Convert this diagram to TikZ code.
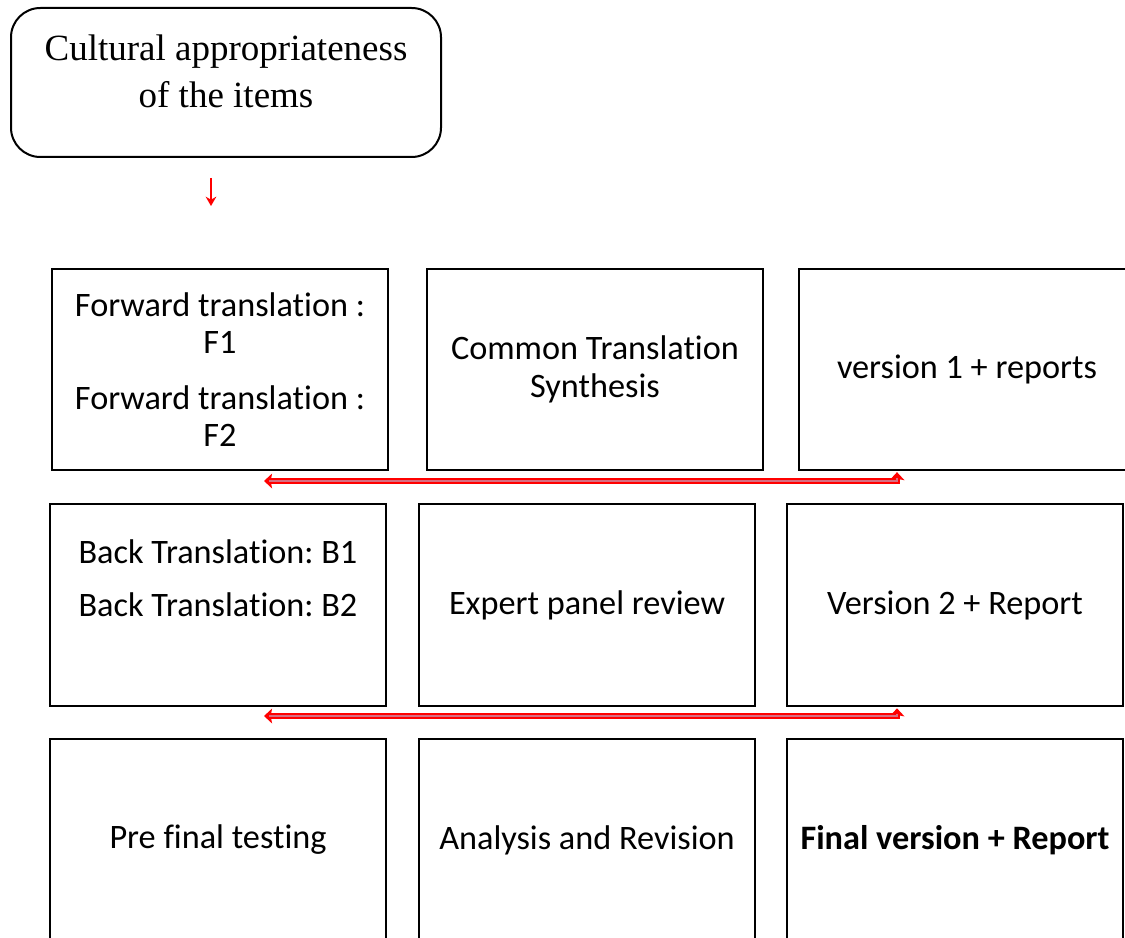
\documentclass[tikz,border=0pt]{standalone}
\usepackage{fontspec}
\setmainfont{Carlito}[Ligatures={NoCommon,NoContextual}]
\newfontfamily\tnr{Liberation Serif}
\usetikzlibrary{arrows.meta,calc}
\frenchspacing
\definecolor{innerln}{RGB}{215,110,130}
\begin{document}
\begin{tikzpicture}[x=0.75pt,y=-0.75pt,
  stepbox/.style={draw=black,line width=1.5pt,rectangle,inner sep=0pt,
    minimum width=252pt,minimum height=151pt,align=center,
    font=\fontsize{25.7pt}{28pt}\selectfont},
  topbox/.style={draw=black,line width=1.5pt,rectangle,rounded corners=22pt,inner sep=0pt,
    minimum width=322.5pt,minimum height=111.75pt,align=center,
    font=\tnr\fontsize{27.75pt}{35.25pt}\selectfont},
  redlink/.style={draw=red,line width=4pt,
    {Stealth[length=6pt,width=11pt,inset=1pt]}-{Stealth[length=6pt,width=11pt,inset=1pt]}},
  redcore/.style={draw=innerln,line width=1pt,shorten >=4pt,shorten <=4pt},
  downarrow/.style={draw=red,line width=1.1pt,-{Stealth[length=7pt,width=8pt]}}
]
\useasboundingbox (0,0) rectangle (1125,938);
\clip (0,0) rectangle (1125,938);

\node[topbox] (cult) at (226,82.5) {Cultural appropriateness\\of the items\\[-18.75pt]\mbox{}};
\coordinate (d1) at (211,178);
\coordinate (d2) at (211,206);
\draw[downarrow] (d1) -- (d2);

% row 1
\node[stepbox] (f) at (220,369.5) {Forward translation :\\F1\\[13.5pt]Forward translation :\\F2};
\node[stepbox] (cts) at (595,369.5) {Common Translation\\Synthesis};
\node[stepbox] (v1) at (967,369.5) {version 1 + reports};
% row 2
\node[stepbox,minimum height=152pt] (b) at (218,605) {Back Translation: B1\\[12pt]Back Translation: B2\\[12pt]\mbox{}};
\node[stepbox,minimum height=152pt] (epr) at (587,605) {Expert panel review};
\node[stepbox,minimum height=152pt] (v2) at (955,605) {Version 2 + Report};
% row 3
\node[stepbox,minimum height=152pt] (pft) at (218,840) {Pre final testing};
\node[stepbox,minimum height=152pt] (ar) at (587,840) {Analysis and Revision};
\node[stepbox,minimum height=152pt] (fv) at (955,840) {\textbf{Final version + Report}};

% red links
\coordinate (e1) at (264,481);
\draw[redlink] ($(v1.south west)+(99,1)$) |- (e1);
\draw[redcore] ($(v1.south west)+(99,1)$) |- (e1);
\coordinate (e2) at (264,716);
\draw[redlink] ($(v2.south west)+(111,1)$) |- (e2);
\draw[redcore] ($(v2.south west)+(111,1)$) |- (e2);
\end{tikzpicture}
\end{document}
